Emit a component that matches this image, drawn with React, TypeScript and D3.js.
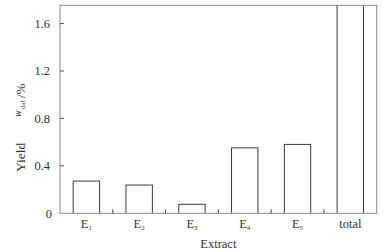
import React from "react";
import * as d3 from "d3";

const categories = ["E1", "E2", "E3", "E4", "E5", "total"];
const subs = ["1", "2", "3", "4", "5", ""];
const values = [0.272, 0.238, 0.076, 0.552, 0.581, 1.78];
const yTicks = [0, 0.4, 0.8, 1.2, 1.6];

export default function App() {
  const W = 389, H = 252;
  const left = 60, right = 376.7, top = 5.3, bottom = 213.3;
  const x = d3.scaleBand<string>().domain(categories).range([left, right]).paddingInner(0.5).paddingOuter(0.25);
  const y = d3.scaleLinear().domain([0, 1.754]).range([bottom, top]);
  const step = x.step();
  const ff = { fontFamily: "Liberation Serif" };
  const axisColor = "#8a8a8a";
  return (
    <svg width={W} height={H} style={{ position: "absolute", left: 0, top: 0 }}>
      <defs>
        <clipPath id="plot">
          <rect x={left} y={top} width={right - left} height={bottom - top} />
        </clipPath>
      </defs>
      <rect width={W} height={H} fill="#fff" />
      <g clipPath="url(#plot)">
        {categories.map((c, i) => (
          <rect key={c} x={x(c)!} y={y(values[i])} width={x.bandwidth()} height={bottom - y(values[i]) + 2}
            fill="none" stroke="#3a3a3a" strokeWidth={1} />
        ))}
      </g>
      <rect x={left} y={top} width={right - left} height={bottom - top} fill="none" stroke={axisColor} strokeWidth={1} />
      {yTicks.map((t) => (
        <g key={t}>
          {t > 0 && <line x1={left} x2={left + 4} y1={y(t)} y2={y(t)} stroke="#555" strokeWidth={1} />}
          <text x={t === 0 ? 52 : 50} y={y(t) + 4.5} textAnchor="end" fontSize={12.5} fill="#333" style={ff}>
            {t === 0 ? "0" : t.toFixed(1)}
          </text>
        </g>
      ))}
      {categories.slice(0, -1).map((c) => {
        const bx = x(c)! + x.bandwidth() / 2 + step / 2;
        return <line key={"t" + c} x1={bx} x2={bx} y1={bottom} y2={bottom - 4} stroke="#444" strokeWidth={1} />;
      })}
      {categories.map((c, i) => {
        const cx = x(c)! + x.bandwidth() / 2;
        return (
          <text key={"l" + c} x={cx} y={228} textAnchor="middle" fontSize={12.5} fill="#333" style={ff}>
            {subs[i] ? (
              <>
                E<tspan fontSize={7} dy={2}>{subs[i]}</tspan>
              </>
            ) : (
              "total"
            )}
          </text>
        );
      })}
      <text x={(left + right) / 2} y={247.5} textAnchor="middle" fontSize={12.5} fill="#333" style={ff}>
        Extract
      </text>
      <g transform="rotate(-90)" fill="#333" style={ff}>
        <text x={-172} y={25} fontSize={13.5}>Yield</text>
        <text x={-117} y={21} fontSize={10} fontStyle="italic">w</text>
        <text x={-109} y={24.5} fontSize={6.5}>daf</text>
        <text x={-98} y={25} fontSize={13}>/%</text>
      </g>
    </svg>
  );
}
